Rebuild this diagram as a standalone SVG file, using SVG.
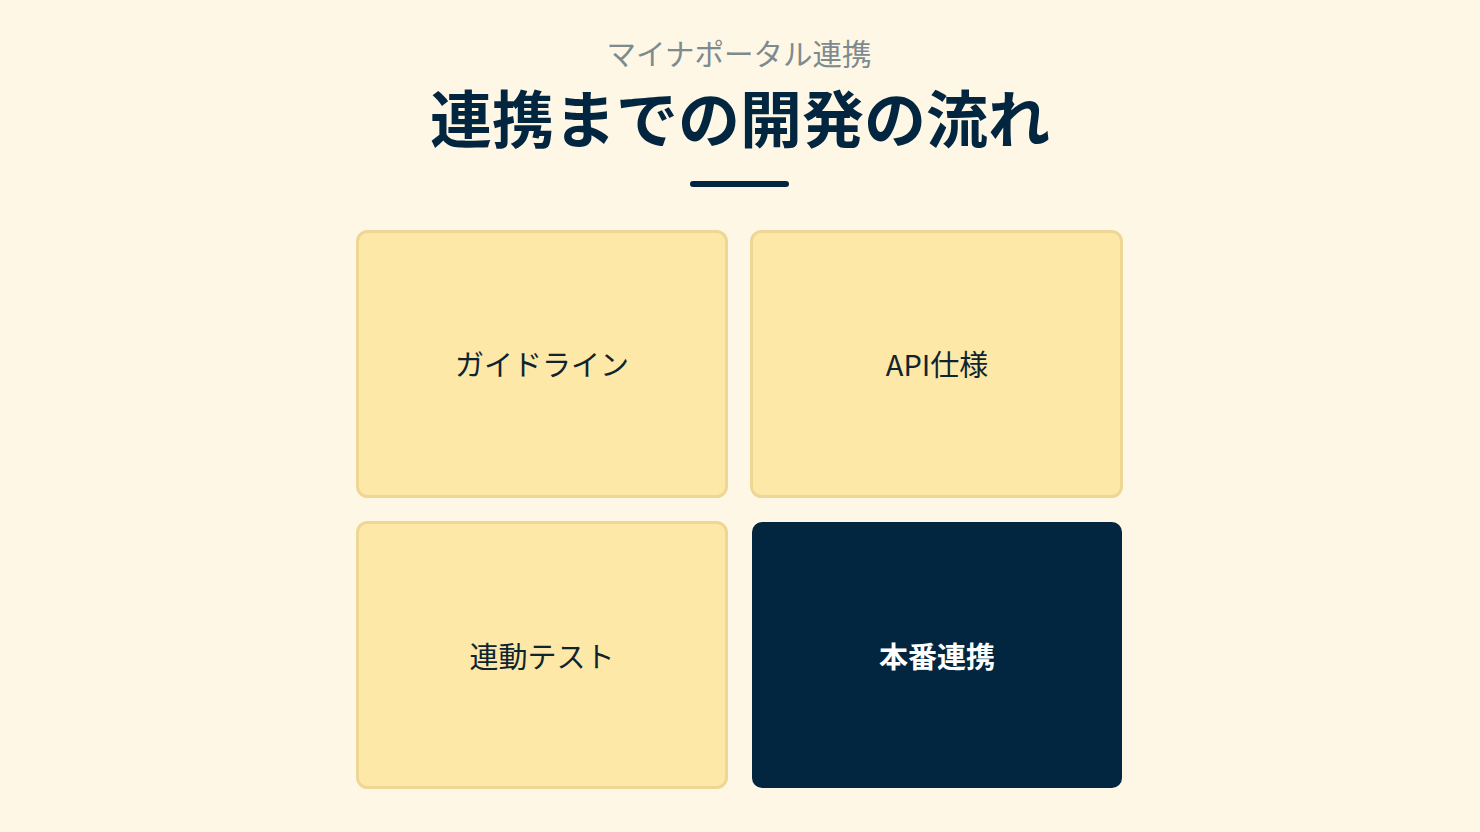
<svg xmlns="http://www.w3.org/2000/svg" width="1480" height="832" viewBox="0 0 1480 832">
<style>
.card{fill:#fde8a8;stroke:#eed794;stroke-width:3}
.dark{fill:#02263f}
.lbl{font-family:"Noto Sans CJK JP","Noto Sans",sans-serif;font-size:29px;fill:#10242f;text-anchor:middle;dominant-baseline:central}
.lbl.w{fill:#ffffff;font-weight:bold}
</style>
<rect width="1480" height="832" fill="#fef7e6"/>
<text x="739" y="65" font-family="Noto Sans CJK JP,Noto Sans,sans-serif" font-size="29.5" fill="#7d8b8f" text-anchor="middle">マイナポータル連携</text>
<text x="740" y="143" font-family="Noto Sans CJK JP,Noto Sans,sans-serif" font-size="62" font-weight="bold" fill="#02263f" text-anchor="middle">連携までの開発の流れ</text>
<rect x="690" y="181" width="99" height="6" rx="3" fill="#02263f"/>
<g id="connectors"></g>
<g id="n1"><rect class="card" x="357.5" y="231.5" width="369" height="265" rx="10"/><text class="lbl" x="542" y="363">ガイドライン</text></g>
<g id="n2"><rect class="card" x="751.5" y="231.5" width="370" height="265" rx="10"/><text class="lbl" x="937" y="363">API仕様</text></g>
<g id="n3"><rect class="card" x="357.5" y="522.5" width="369" height="265" rx="10"/><text class="lbl" x="542" y="655">連動テスト</text></g>
<g id="n4"><rect class="dark" x="752" y="522" width="370" height="266" rx="10"/><text class="lbl w" x="937" y="655">本番連携</text></g>
</svg>
